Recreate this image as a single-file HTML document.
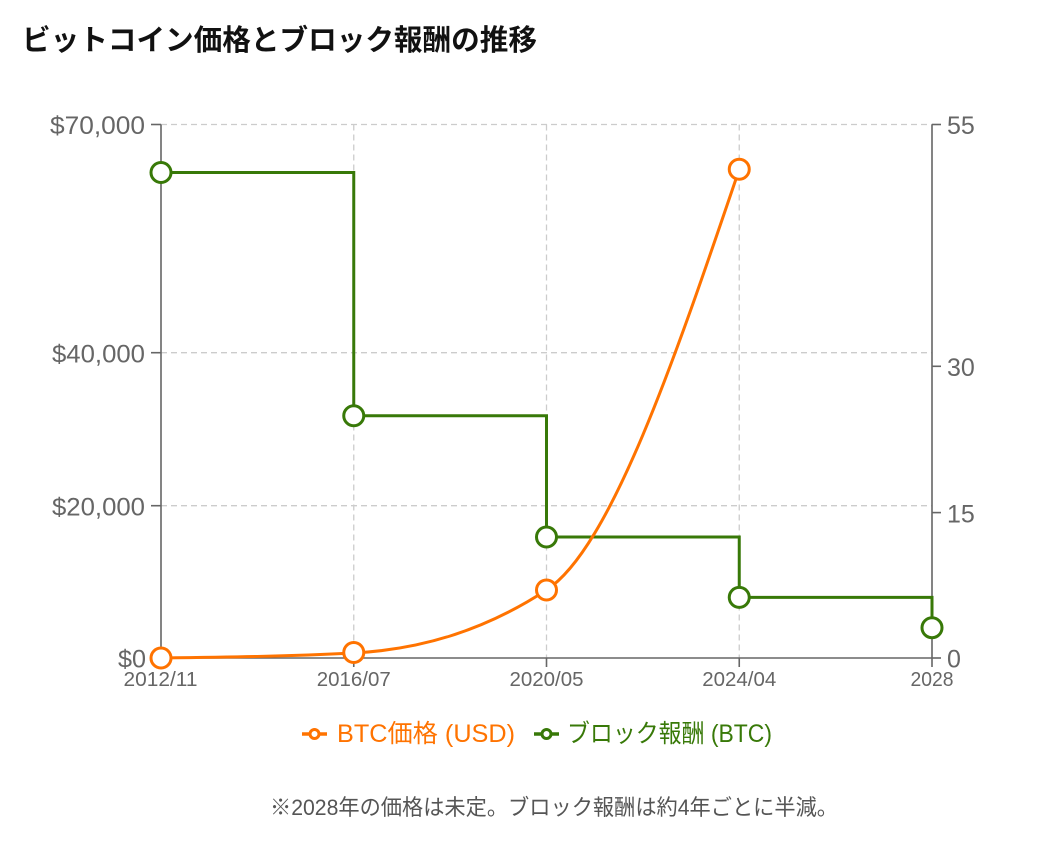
<!DOCTYPE html>
<html lang="ja">
<head>
<meta charset="utf-8">
<style>
  html, body { margin: 0; padding: 0; background: #ffffff; }
  body { width: 1047px; height: 857px; overflow: hidden; }
  svg { display: block; }
  .jp { font-family: "Liberation Sans", "Noto Sans CJK JP", sans-serif; }
</style>
</head>
<body>
<svg width="1047" height="857" viewBox="0 0 1047 857" xmlns="http://www.w3.org/2000/svg">
  <rect width="1047" height="857" fill="#ffffff"/>

  <!-- Title -->
  <text class="jp" x="22" y="50" font-size="29" font-weight="bold" fill="#111" textLength="515" lengthAdjust="spacingAndGlyphs">ビットコイン価格とブロック報酬の推移</text>

  <!-- Grid -->
  <g stroke="#cccccc" stroke-width="1.3" stroke-dasharray="6 4" fill="none">
    <line x1="161" y1="124.5" x2="932" y2="124.5"/>
    <line x1="161" y1="352.7" x2="932" y2="352.7"/>
    <line x1="161" y1="505.7" x2="932" y2="505.7"/>
    <line x1="353.75" y1="124.5" x2="353.75" y2="658"/>
    <line x1="546.5" y1="124.5" x2="546.5" y2="658"/>
    <line x1="739.25" y1="124.5" x2="739.25" y2="658"/>
  </g>

  <!-- Axes -->
  <g stroke="#666666" stroke-width="1.6" fill="none">
    <line x1="161" y1="124.5" x2="161" y2="658"/>
    <line x1="932" y1="124.5" x2="932" y2="658"/>
    <line x1="161" y1="658" x2="932" y2="658"/>
    <line x1="151" y1="124.5" x2="161" y2="124.5"/>
    <line x1="151" y1="352.7" x2="161" y2="352.7"/>
    <line x1="151" y1="505.7" x2="161" y2="505.7"/>
    <line x1="151" y1="658" x2="161" y2="658"/>
    <line x1="932" y1="124.5" x2="941" y2="124.5"/>
    <line x1="932" y1="366.3" x2="941" y2="366.3"/>
    <line x1="932" y1="512.6" x2="941" y2="512.6"/>
    <line x1="932" y1="658" x2="941" y2="658"/>
    <line x1="161" y1="658" x2="161" y2="667"/>
    <line x1="353.75" y1="658" x2="353.75" y2="667"/>
    <line x1="546.5" y1="658" x2="546.5" y2="667"/>
    <line x1="739.25" y1="658" x2="739.25" y2="667"/>
    <line x1="932" y1="658" x2="932" y2="667"/>
  </g>

  <!-- Left axis labels -->
  <g font-family="Liberation Sans, sans-serif" font-size="25" fill="#666666">
    <text x="50" y="134" textLength="95" lengthAdjust="spacingAndGlyphs">$70,000</text>
    <text x="52" y="362.3" textLength="93" lengthAdjust="spacingAndGlyphs">$40,000</text>
    <text x="52" y="515.3" textLength="93" lengthAdjust="spacingAndGlyphs">$20,000</text>
    <text x="118" y="667.5" textLength="28" lengthAdjust="spacingAndGlyphs">$0</text>
  </g>

  <!-- Right axis labels -->
  <g font-family="Liberation Sans, sans-serif" font-size="25" fill="#666666" text-anchor="start">
    <text x="947" y="134">55</text>
    <text x="947" y="376">30</text>
    <text x="947" y="522.3">15</text>
    <text x="947" y="667.5">0</text>
  </g>

  <!-- Bottom axis labels -->
  <g font-family="Liberation Sans, sans-serif" font-size="20" fill="#666666">
    <text x="123.5" y="686" textLength="74" lengthAdjust="spacingAndGlyphs">2012/11</text>
    <text x="316.75" y="686" textLength="74" lengthAdjust="spacingAndGlyphs">2016/07</text>
    <text x="509.5" y="686" textLength="74" lengthAdjust="spacingAndGlyphs">2020/05</text>
    <text x="702.25" y="686" textLength="74" lengthAdjust="spacingAndGlyphs">2024/04</text>
    <text x="910.5" y="686" textLength="43" lengthAdjust="spacingAndGlyphs">2028</text>
  </g>

  <!-- Block reward step line -->
  <path d="M161,172.5 H353.75 V415.7 H546.5 V537 H739.25 V597.4 H932 V627.7"
        fill="none" stroke="#387908" stroke-width="3"/>

  <!-- BTC price monotone curve -->
  <path d="M161,658 C225.25,657.17 289.5,656.33 353.75,653 C418,649.67 482.25,631.99 546.5,590 C610.75,548.01 675,358.65 739.25,169.3"
        fill="none" stroke="#ff7300" stroke-width="3"/>

  <!-- Block reward markers -->
  <g fill="#ffffff" stroke="#387908" stroke-width="3">
    <circle cx="161" cy="172.5" r="10"/>
    <circle cx="353.75" cy="415.7" r="10"/>
    <circle cx="546.5" cy="537" r="10"/>
    <circle cx="739.25" cy="597.4" r="10"/>
    <circle cx="932" cy="627.7" r="10"/>
  </g>

  <!-- BTC price markers -->
  <g fill="#ffffff" stroke="#ff7300" stroke-width="3">
    <circle cx="161" cy="658" r="10"/>
    <circle cx="353.75" cy="652.5" r="10"/>
    <circle cx="546.5" cy="590" r="10"/>
    <circle cx="739.25" cy="169.3" r="10"/>
  </g>

  <!-- Legend -->
  <g>
    <line x1="302" y1="734" x2="327" y2="734" stroke="#ff7300" stroke-width="3.5"/>
    <circle cx="314.5" cy="734" r="4.5" fill="#ffffff" stroke="#ff7300" stroke-width="3"/>
    <text class="jp" x="337" y="742" font-size="25" fill="#ff7300" textLength="178" lengthAdjust="spacingAndGlyphs">BTC価格 (USD)</text>

    <line x1="534" y1="734" x2="559" y2="734" stroke="#387908" stroke-width="3.5"/>
    <circle cx="546.5" cy="734" r="4.5" fill="#ffffff" stroke="#387908" stroke-width="3"/>
    <text class="jp" x="567" y="742" font-size="25" fill="#387908" textLength="205" lengthAdjust="spacingAndGlyphs">ブロック報酬 (BTC)</text>
  </g>

  <!-- Footnote -->
  <text class="jp" x="270" y="815" font-size="22" fill="#555555" textLength="568" lengthAdjust="spacingAndGlyphs">※2028年の価格は未定。ブロック報酬は約4年ごとに半減。</text>
</svg>
</body>
</html>
